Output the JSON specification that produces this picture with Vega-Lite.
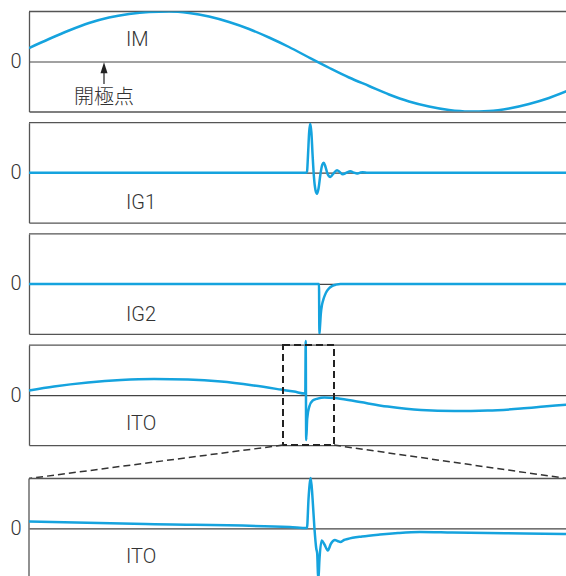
{
  "$schema": "https://vega.github.io/schema/vega-lite/v6.json",
  "background": "white",
  "padding": {"left": 9, "top": 10.5, "right": 0, "bottom": 0},
  "config": {
    "view": {"stroke": null},
    "axisY": {"labelFontSize": 20, "labelFont": "Roboto", "labelFontWeight": 300, "labelColor": "#333", "ticks": false, "domain": true, "domainColor": "#555", "domainWidth": 1.3, "grid": true, "gridColor": "#444", "gridWidth": 1.2, "labelPadding": 8, "title": null, "format": "d"},
    "axisX": {"domain": true, "domainColor": "#555", "domainWidth": 1.3, "labels": false, "ticks": false, "grid": false, "title": null}
  },
  "datasets": {
    "im": [
      {"t": 0, "v": 0.27}, {"t": 20, "v": 0.45}, {"t": 40, "v": 0.62}, {"t": 60, "v": 0.77}, {"t": 80, "v": 0.88},
      {"t": 100, "v": 0.95}, {"t": 120, "v": 0.99}, {"t": 140, "v": 1.0}, {"t": 160, "v": 0.97}, {"t": 180, "v": 0.9},
      {"t": 200, "v": 0.79}, {"t": 220, "v": 0.65}, {"t": 240, "v": 0.48}, {"t": 260, "v": 0.29}, {"t": 280, "v": 0.08},
      {"t": 300, "v": -0.125}, {"t": 320, "v": -0.32}, {"t": 340, "v": -0.49}, {"t": 360, "v": -0.66},
      {"t": 380, "v": -0.8}, {"t": 400, "v": -0.9}, {"t": 420, "v": -0.97}, {"t": 440, "v": -1.0}, {"t": 460, "v": -0.99},
      {"t": 480, "v": -0.94}, {"t": 500, "v": -0.85}, {"t": 520, "v": -0.73}, {"t": 538, "v": -0.59}
    ],
    "ig1": [
      {"t": 0, "v": 0}, {"t": 277, "v": 0}, {"t": 278, "v": 0.02}, {"t": 279, "v": 0.35}, {"t": 280.2, "v": 0.82},
      {"t": 281.3, "v": 0.98}, {"t": 282.4, "v": 0.8}, {"t": 283.6, "v": 0.35}, {"t": 285, "v": -0.1}, {"t": 286.5, "v": -0.35},
      {"t": 288, "v": -0.42}, {"t": 289.5, "v": -0.32}, {"t": 291.5, "v": -0.02}, {"t": 293.3, "v": 0.16}, {"t": 294.7, "v": 0.2},
      {"t": 296.3, "v": 0.13}, {"t": 298.5, "v": -0.02}, {"t": 301.3, "v": -0.085}, {"t": 304, "v": -0.03}, {"t": 308, "v": 0.05},
      {"t": 311, "v": 0.01}, {"t": 313.7, "v": -0.03}, {"t": 317.5, "v": 0.0}, {"t": 321.3, "v": 0.03}, {"t": 325, "v": 0.0},
      {"t": 328, "v": -0.016}, {"t": 331, "v": 0.0}, {"t": 333.7, "v": 0.01}, {"t": 338.7, "v": 0.0}, {"t": 538, "v": 0}
    ],
    "ig2": [
      {"t": 0, "v": 0}, {"t": 290, "v": 0}, {"t": 290.4, "v": -1.0}, {"t": 291.0, "v": -0.85}, {"t": 291.8, "v": -0.6},
      {"t": 293, "v": -0.42}, {"t": 294.4, "v": -0.31}, {"t": 296, "v": -0.22}, {"t": 298, "v": -0.14}, {"t": 300.5, "v": -0.08},
      {"t": 303.4, "v": -0.04}, {"t": 307, "v": -0.015}, {"t": 311.4, "v": 0}, {"t": 538, "v": 0}
    ],
    "ito": [
      {"t": 0, "v": 0.09}, {"t": 25, "v": 0.17}, {"t": 59, "v": 0.25}, {"t": 92, "v": 0.3}, {"t": 125, "v": 0.32},
      {"t": 159, "v": 0.31}, {"t": 192, "v": 0.27}, {"t": 225, "v": 0.19}, {"t": 252, "v": 0.11}, {"t": 265, "v": 0.07},
      {"t": 276.3, "v": 0.03}, {"t": 276.7, "v": 1.08}, {"t": 277.2, "v": -0.9}, {"t": 278.2, "v": -0.47}, {"t": 280.3, "v": -0.23},
      {"t": 283.7, "v": -0.11}, {"t": 288.7, "v": -0.07}, {"t": 295.3, "v": -0.05}, {"t": 305.3, "v": -0.06}, {"t": 325.3, "v": -0.12},
      {"t": 358.7, "v": -0.23}, {"t": 392, "v": -0.3}, {"t": 425.3, "v": -0.32}, {"t": 458.7, "v": -0.31}, {"t": 492, "v": -0.27},
      {"t": 515, "v": -0.23}, {"t": 538, "v": -0.19}
    ],
    "itoZoom": [
      {"t": 254, "v": 0.14}, {"t": 265.03, "v": 0.09}, {"t": 278.72, "v": 0.03}, {"t": 280.35, "v": 0.01}, {"t": 280.5, "v": 0.6},
      {"t": 280.71, "v": 1.01}, {"t": 280.88, "v": 0.6}, {"t": 281.06, "v": 0.0}, {"t": 281.23, "v": -0.4}, {"t": 281.32, "v": -0.5},
      {"t": 281.42, "v": -1.05}, {"t": 281.54, "v": -0.6}, {"t": 281.74, "v": -0.24}, {"t": 282.01, "v": -0.32}, {"t": 282.32, "v": -0.44},
      {"t": 282.63, "v": -0.3}, {"t": 283.0, "v": -0.23}, {"t": 283.25, "v": -0.25}, {"t": 283.52, "v": -0.27}, {"t": 283.86, "v": -0.23},
      {"t": 284.2, "v": -0.21}, {"t": 285.57, "v": -0.16}, {"t": 287.27, "v": -0.12}, {"t": 288.98, "v": -0.09}, {"t": 291.05, "v": -0.07},
      {"t": 294.1, "v": -0.08}, {"t": 297.51, "v": -0.09}, {"t": 300.97, "v": -0.1}, {"t": 305, "v": -0.11}
    ]
  },
  "spacing": 11.2,
  "bounds": "flush",
  "vconcat": [
    {
      "width": 538, "height": 100,
      "layer": [
        {"data": {"values": [{}]}, "mark": {"type": "rule", "color": "#555", "strokeWidth": 1.3}, "encoding": {"y": {"datum": 1}}},
        {"data": {"name": "im"}, "mark": {"type": "line", "color": "#15a3de", "strokeWidth": 2.5, "interpolate": "monotone", "clip": true, "strokeJoin": "round"},
         "encoding": {"x": {"field": "t", "type": "quantitative", "scale": {"domain": [0, 538], "nice": false, "zero": false}, "axis": {"orient": "bottom"}},
                      "y": {"field": "v", "type": "quantitative", "scale": {"domain": [-1, 1], "nice": false}, "axis": {"values": [0], "format": "d"}}}},
        {"data": {"values": [{}]}, "mark": {"type": "text", "text": "IM", "align": "left", "baseline": "middle", "fontSize": 20, "font": "Roboto", "fontWeight": 300, "color": "#333"}, "encoding": {"x": {"datum": 97}, "y": {"datum": 0.43}}},
        {"data": {"values": [{}]}, "mark": {"type": "rule", "color": "#222", "strokeWidth": 1.2}, "encoding": {"x": {"datum": 75}, "y": {"datum": -0.45}, "y2": {"datum": -0.2}}},
        {"data": {"values": [{}]}, "mark": {"type": "point", "shape": "M0,-1L0.64,1L-0.64,1Z", "size": 121, "filled": true, "color": "#222", "opacity": 1}, "encoding": {"x": {"datum": 75}, "y": {"datum": -0.125}}},
        {"data": {"values": [{}]}, "mark": {"type": "text", "text": "開極点", "align": "center", "baseline": "middle", "fontSize": 20, "font": "Noto Sans CJK JP", "fontWeight": 300, "color": "#333"}, "encoding": {"x": {"datum": 75}, "y": {"datum": -0.73}}}
      ]
    },
    {
      "width": 538, "height": 100,
      "layer": [
        {"data": {"values": [{}]}, "mark": {"type": "rule", "color": "#555", "strokeWidth": 1.3}, "encoding": {"y": {"datum": 1}}},
        {"data": {"name": "ig1"}, "mark": {"type": "line", "color": "#15a3de", "strokeWidth": 2.5, "interpolate": "monotone", "clip": true, "strokeJoin": "round"},
         "encoding": {"x": {"field": "t", "type": "quantitative", "scale": {"domain": [0, 538], "nice": false, "zero": false}, "axis": {"orient": "bottom"}},
                      "y": {"field": "v", "type": "quantitative", "scale": {"domain": [-1, 1], "nice": false}, "axis": {"values": [0], "format": "d"}}}},
        {"data": {"values": [{}]}, "mark": {"type": "text", "text": "IG1", "align": "left", "baseline": "middle", "fontSize": 20, "font": "Roboto", "fontWeight": 300, "color": "#333"}, "encoding": {"x": {"datum": 97}, "y": {"datum": -0.61}}}
      ]
    },
    {
      "width": 538, "height": 100,
      "layer": [
        {"data": {"values": [{}]}, "mark": {"type": "rule", "color": "#555", "strokeWidth": 1.3}, "encoding": {"y": {"datum": 1}}},
        {"data": {"name": "ig2"}, "mark": {"type": "line", "color": "#15a3de", "strokeWidth": 2.5, "interpolate": "monotone", "clip": true, "strokeJoin": "round"},
         "encoding": {"x": {"field": "t", "type": "quantitative", "scale": {"domain": [0, 538], "nice": false, "zero": false}, "axis": {"orient": "bottom"}},
                      "y": {"field": "v", "type": "quantitative", "scale": {"domain": [-1, 1], "nice": false}, "axis": {"values": [0], "format": "d"}}}},
        {"data": {"values": [{}]}, "mark": {"type": "text", "text": "IG2", "align": "left", "baseline": "middle", "fontSize": 20, "font": "Roboto", "fontWeight": 300, "color": "#333"}, "encoding": {"x": {"datum": 97}, "y": {"datum": -0.62}}}
      ]
    },
    {
      "width": 538, "height": 100,
      "layer": [
        {"data": {"values": [{}]}, "mark": {"type": "rule", "color": "#555", "strokeWidth": 1.3}, "encoding": {"y": {"datum": 1}}},
        {"data": {"name": "ito"}, "mark": {"type": "line", "color": "#15a3de", "strokeWidth": 2.5, "interpolate": "monotone", "clip": false, "strokeJoin": "round"},
         "encoding": {"x": {"field": "t", "type": "quantitative", "scale": {"domain": [0, 538], "nice": false, "zero": false}, "axis": {"orient": "bottom"}},
                      "y": {"field": "v", "type": "quantitative", "scale": {"domain": [-1, 1], "nice": false}, "axis": {"values": [0], "format": "d"}}}},
        {"data": {"values": [{}]}, "mark": {"type": "text", "text": "ITO", "align": "left", "baseline": "middle", "fontSize": 20, "font": "Roboto", "fontWeight": 300, "color": "#333"}, "encoding": {"x": {"datum": 97}, "y": {"datum": -0.57}}},
        {"data": {"values": [{}]}, "mark": {"type": "rect", "fill": "transparent", "stroke": "#222", "strokeWidth": 2, "strokeDash": [7, 4]}, "encoding": {"x": {"datum": 254}, "x2": {"datum": 305}, "y": {"datum": -1}, "y2": {"datum": 1}}},
        {"data": {"values": [{}]}, "mark": {"type": "rule", "color": "#333", "strokeWidth": 1.5, "strokeDash": [7, 4]}, "encoding": {"x": {"datum": 254}, "y": {"datum": -1}, "x2": {"datum": 0}, "y2": {"datum": -1.668}}},
        {"data": {"values": [{}]}, "mark": {"type": "rule", "color": "#333", "strokeWidth": 1.5, "strokeDash": [7, 4]}, "encoding": {"x": {"datum": 305}, "y": {"datum": -1}, "x2": {"datum": 538}, "y2": {"datum": -1.668}}}
      ]
    },
    {
      "width": 538, "height": 120.2,
      "layer": [
        {"data": {"values": [{}]}, "mark": {"type": "rule", "color": "#555", "strokeWidth": 1.3}, "encoding": {"y": {"datum": 1}}},
        {"data": {"values": [{}]}, "mark": {"type": "rule", "color": "#555", "strokeWidth": 1.3}, "encoding": {"x": {"datum": 254}, "y": {"datum": -0.96}, "y2": {"datum": 1}}},
        {"data": {"name": "itoZoom"}, "mark": {"type": "line", "color": "#15a3de", "strokeWidth": 2.5, "interpolate": "monotone", "clip": true, "strokeJoin": "round"},
         "encoding": {"x": {"field": "t", "type": "quantitative", "scale": {"domain": [254, 305], "nice": false, "zero": false}, "axis": null},
                      "y": {"field": "v", "type": "quantitative", "scale": {"domain": [-0.96, 1.444], "nice": false}, "axis": {"values": [0], "domain": false, "format": "d"}}}},
        {"data": {"values": [{}]}, "mark": {"type": "text", "text": "ITO", "align": "left", "baseline": "middle", "fontSize": 20, "font": "Roboto", "fontWeight": 300, "color": "#333"}, "encoding": {"x": {"datum": 263.2}, "y": {"datum": -0.56}}}
      ]
    }
  ]
}
